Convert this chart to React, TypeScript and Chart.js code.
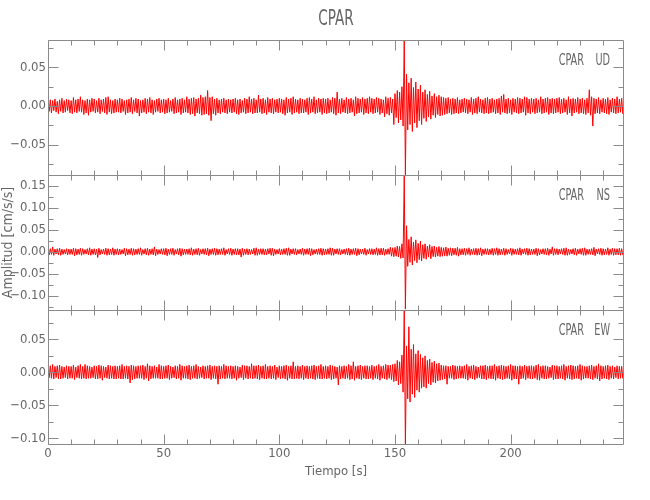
import { useEffect, useRef } from "react";
import { Chart, registerables } from "chart.js";

Chart.register(...registerables);

// ---- data ----
// Per-second upper (max) and lower (min) excursion of each trace, read off the
// picture, in thousandths of cm/s/s. Second i covers t = i .. i+1 s.
const STATION = "CPAR";
const TIME_STEP = 1; // s
const X_MIN = 0;
const X_MAX = 249;
const X_TICK_STEP = 10;
const X_LABEL_STEP = 50;
const Y_TICK_STEP = 0.025;
const Y_LABEL_STEP = 0.05;

const UD_RANGE = [-0.0893, 0.0854];
const NS_RANGE = [-0.132, 0.174];
const EW_RANGE = [-0.11, 0.0944];

const udHi = [
  6, 8, 7, 9, 6, 8, 10, 7, 9, 8,
  7, 11, 8, 9, 12, 8, 7, 9, 8, 10,
  9, 7, 10, 8, 9, 11, 12, 8, 7, 9,
  8, 10, 9, 7, 8, 9, 11, 8, 10, 9,
  7, 8, 10, 9, 11, 8, 7, 9, 10, 8,
  9, 8, 10, 7, 9, 11, 8, 9, 10, 8,
  12, 9, 10, 11, 9, 10, 14, 11, 12, 20,
  11, 12, 9, 10, 8, 9, 10, 8, 9, 8,
  9, 10, 8, 9, 7, 10, 9, 12, 9, 10,
  8, 14, 9, 10, 8, 11, 9, 10, 8, 9,
  10, 9, 8, 11, 9, 10, 12, 9, 8, 10,
  9, 8, 10, 11, 9, 12, 8, 10, 9, 10,
  9, 10, 8, 11, 10, 18, 9, 10, 8, 11,
  9, 10, 8, 12, 10, 9, 11, 9, 10, 12,
  10, 9, 11, 10, 9, 8, 12, 10, 11, 9,
  16, 20, 18, 25, 85, 41, 30, 36, 24, 31,
  22, 27, 18, 21, 15, 19, 13, 16, 12, 14,
  12, 11, 10, 11, 9, 10, 9, 11, 8, 9,
  10, 9, 8, 11, 9, 10, 12, 9, 8, 10,
  11, 9, 10, 8, 9, 10, 13, 15, 9, 10,
  8, 10, 9, 11, 10, 9, 12, 11, 9, 10,
  9, 10, 8, 12, 9, 10, 11, 9, 10, 9,
  10, 11, 9, 10, 8, 12, 9, 10, 9, 11,
  9, 10, 8, 10, 21, 12, 10, 9, 11, 8,
  10, 9, 11, 8, 10, 9, 12, 9, 10, 11,
];
const udLo = [
  -7, -9, -6, -8, -10, -7, -9, -8, -6, -9,
  -10, -8, -9, -7, -8, -11, -9, -12, -8, -7,
  -9, -8, -10, -7, -9, -11, -8, -10, -9, -8,
  -8, -9, -7, -11, -9, -8, -10, -7, -9, -13,
  -9, -8, -10, -8, -9, -11, -8, -7, -9, -8,
  -10, -9, -8, -7, -10, -9, -8, -11, -9, -8,
  -9, -11, -10, -13, -9, -10, -12, -11, -10, -12,
  -19, -10, -12, -9, -10, -8, -9, -10, -8, -9,
  -8, -10, -11, -9, -8, -10, -9, -8, -10, -9,
  -9, -8, -10, -9, -11, -8, -9, -10, -8, -9,
  -8, -10, -12, -9, -8, -11, -9, -8, -10, -9,
  -9, -8, -11, -9, -8, -10, -9, -8, -11, -9,
  -10, -9, -8, -10, -12, -9, -10, -8, -9, -10,
  -9, -8, -13, -10, -9, -8, -11, -9, -10, -8,
  -10, -9, -8, -11, -9, -14, -10, -12, -9, -24,
  -15, -22, -18, -26, -89, -31, -24, -33, -22, -28,
  -19, -24, -16, -20, -14, -17, -12, -15, -11, -13,
  -12, -11, -10, -9, -11, -10, -9, -10, -9, -8,
  -9, -10, -8, -11, -9, -10, -8, -9, -10, -9,
  -10, -9, -8, -10, -9, -11, -8, -9, -10, -9,
  -11, -8, -9, -10, -9, -8, -12, -9, -10, -8,
  -10, -9, -8, -10, -9, -8, -11, -9, -10, -9,
  -8, -10, -9, -8, -11, -9, -13, -9, -8, -10,
  -9, -10, -11, -9, -12, -26, -10, -9, -10, -8,
  -9, -10, -11, -8, -9, -10, -9, -8, -10, -9,
];

const nsHi = [
  5, 7, 11, 6, 7, 8, 6, 5, 7, 6,
  6, 8, 7, 6, 8, 7, 5, 7, 9, 6,
  7, 6, 8, 5, 6, 8, 7, 6, 9, 6,
  7, 6, 5, 8, 7, 6, 8, 7, 6, 7,
  9, 5, 7, 8, 6, 7, 11, 6, 5, 7,
  7, 8, 6, 7, 8, 5, 7, 8, 7, 6,
  6, 7, 9, 6, 7, 8, 5, 7, 7, 8,
  6, 7, 8, 7, 6, 7, 9, 5, 7, 8,
  6, 7, 7, 6, 8, 6, 7, 6, 5, 8,
  9, 6, 7, 7, 6, 7, 8, 8, 6, 5,
  7, 6, 7, 8, 9, 6, 7, 7, 5, 6,
  8, 6, 7, 8, 7, 5, 6, 7, 8, 7,
  6, 7, 9, 8, 6, 7, 7, 5, 6, 7,
  8, 6, 7, 8, 7, 6, 6, 8, 5, 7,
  7, 6, 9, 7, 8, 8, 6, 7, 10, 9,
  10, 13, 12, 18, 172, 59, 28, 34, 22, 27,
  19, 24, 16, 18, 13, 16, 12, 13, 10, 12,
  10, 9, 11, 8, 9, 8, 8, 10, 7, 7,
  8, 7, 9, 6, 7, 8, 7, 9, 6, 7,
  7, 6, 8, 7, 9, 7, 6, 8, 7, 5,
  8, 7, 6, 7, 9, 6, 7, 8, 7, 6,
  6, 8, 7, 5, 7, 7, 8, 6, 11, 7,
  7, 6, 7, 8, 9, 6, 5, 7, 8, 6,
  7, 8, 9, 6, 6, 7, 10, 6, 7, 8,
  7, 6, 9, 6, 8, 7, 7, 8, 7, 6,
];
const nsLo = [
  -7, -6, -8, -5, -7, -8, -6, -5, -7, -6,
  -6, -9, -7, -6, -8, -6, -5, -7, -8, -6,
  -7, -13, -7, -5, -6, -8, -7, -6, -8, -6,
  -7, -6, -5, -9, -7, -6, -8, -7, -6, -6,
  -8, -5, -7, -8, -6, -7, -9, -6, -5, -6,
  -7, -9, -6, -6, -8, -5, -7, -10, -7, -6,
  -6, -7, -8, -6, -7, -8, -5, -6, -7, -9,
  -6, -6, -8, -7, -6, -6, -8, -5, -6, -8,
  -6, -7, -7, -12, -8, -6, -7, -6, -5, -8,
  -8, -6, -6, -7, -7, -5, -8, -9, -6, -5,
  -7, -6, -6, -8, -8, -5, -6, -7, -5, -6,
  -8, -6, -6, -9, -7, -5, -6, -6, -8, -7,
  -6, -6, -8, -8, -5, -6, -7, -5, -6, -7,
  -8, -6, -6, -9, -7, -5, -6, -8, -5, -6,
  -7, -6, -8, -7, -7, -8, -6, -6, -10, -11,
  -10, -12, -15, -14, -130, -33, -24, -30, -20, -25,
  -18, -21, -15, -17, -12, -16, -11, -12, -10, -11,
  -10, -9, -10, -8, -9, -7, -8, -10, -7, -7,
  -8, -6, -8, -6, -7, -8, -7, -9, -6, -6,
  -7, -6, -8, -6, -8, -7, -6, -8, -6, -5,
  -8, -6, -6, -7, -8, -5, -6, -8, -7, -6,
  -6, -9, -7, -5, -6, -7, -8, -5, -8, -6,
  -7, -5, -6, -8, -8, -6, -5, -7, -8, -5,
  -6, -8, -8, -6, -6, -7, -9, -5, -6, -8,
  -7, -6, -8, -6, -8, -7, -7, -8, -7, -6,
];

const ewHi = [
  8, 10, 12, 9, 10, 11, 9, 8, 10, 9,
  9, 11, 8, 10, 12, 9, 12, 10, 9, 8,
  10, 9, 11, 10, 9, 8, 11, 10, 9, 10,
  9, 10, 12, 9, 10, 9, 11, 10, 9, 10,
  10, 11, 9, 13, 10, 9, 10, 8, 12, 10,
  9, 10, 11, 9, 8, 10, 9, 12, 10, 9,
  10, 11, 9, 10, 12, 9, 8, 10, 9, 10,
  11, 9, 10, 9, 10, 9, 12, 10, 9, 10,
  9, 10, 9, 8, 11, 10, 10, 9, 13, 10,
  10, 11, 9, 10, 12, 9, 10, 9, 11, 8,
  10, 9, 10, 11, 9, 10, 16, 9, 10, 9,
  11, 9, 10, 9, 10, 11, 9, 10, 12, 9,
  10, 9, 11, 10, 9, 8, 10, 9, 10, 9,
  12, 10, 16, 9, 10, 11, 9, 10, 10, 9,
  11, 9, 10, 12, 9, 10, 12, 11, 11, 12,
  13, 18, 16, 26, 94, 40, 69, 35, 42, 28,
  33, 27, 22, 25, 18, 20, 15, 17, 13, 14,
  11, 10, 10, 9, 9, 11, 10, 9, 10, 9,
  10, 12, 9, 10, 11, 9, 8, 10, 10, 11,
  9, 10, 10, 12, 9, 10, 11, 10, 9, 10,
  12, 10, 10, 9, 10, 9, 11, 9, 10, 10,
  9, 11, 12, 9, 10, 10, 9, 8, 11, 10,
  10, 9, 10, 12, 9, 10, 11, 10, 9, 10,
  12, 10, 9, 9, 10, 11, 9, 10, 13, 10,
  9, 10, 11, 9, 10, 8, 10, 9, 9, 8,
];
const ewLo = [
  -8, -9, -10, -8, -10, -10, -9, -8, -10, -9,
  -9, -11, -8, -9, -10, -9, -10, -9, -9, -8,
  -10, -10, -9, -12, -8, -9, -10, -9, -10, -10,
  -9, -10, -10, -9, -10, -16, -11, -10, -9, -9,
  -9, -11, -9, -13, -10, -9, -9, -9, -10, -10,
  -9, -9, -11, -9, -8, -10, -9, -12, -9, -9,
  -10, -11, -9, -9, -10, -9, -8, -10, -9, -9,
  -11, -9, -10, -18, -10, -9, -10, -9, -9, -10,
  -9, -12, -9, -8, -11, -9, -10, -9, -10, -9,
  -10, -11, -9, -10, -10, -9, -10, -9, -11, -8,
  -10, -9, -10, -12, -9, -10, -10, -9, -10, -9,
  -11, -9, -10, -9, -10, -11, -9, -10, -10, -9,
  -10, -9, -11, -10, -9, -19, -10, -9, -10, -9,
  -11, -10, -12, -9, -10, -11, -9, -10, -10, -9,
  -11, -9, -10, -12, -9, -10, -11, -9, -11, -14,
  -13, -19, -17, -30, -110, -40, -45, -33, -38, -27,
  -30, -24, -22, -24, -17, -19, -15, -16, -13, -12,
  -11, -10, -18, -9, -9, -11, -10, -9, -9, -9,
  -10, -12, -9, -10, -11, -9, -8, -10, -10, -11,
  -9, -10, -10, -12, -9, -10, -11, -10, -9, -10,
  -12, -10, -10, -18, -10, -9, -11, -9, -10, -10,
  -9, -11, -12, -9, -10, -10, -9, -8, -11, -10,
  -10, -9, -10, -12, -9, -10, -11, -10, -9, -10,
  -12, -10, -9, -9, -10, -11, -9, -10, -13, -10,
  -9, -10, -11, -9, -10, -8, -10, -9, -9, -8,
];

const PANELS = [
  { id: "yUD", comp: "UD", hi: udHi, lo: udLo, range: UD_RANGE },
  { id: "yNS", comp: "NS", hi: nsHi, lo: nsLo, range: NS_RANGE },
  { id: "yEW", comp: "EW", hi: ewHi, lo: ewLo, range: EW_RANGE },
];

const TITLE = STATION;
const X_TITLE = "Tiempo [s]";
const Y_TITLE = "Amplitud [cm/s/s]";

// ---- styles ----
const FAMILY = '"Liberation Sans Narrow", "DejaVu Sans Condensed", "Liberation Sans", sans-serif';
const TEXT_COLOR = "#666666";
const AXIS_COLOR = "#8a8a8a";
const LINE_COLOR = "#ff0000";

const isMult = (v: number, step: number) => Math.abs(v / step - Math.round(v / step)) < 1e-6;
const fmtY = (v: number) => {
  if (Math.abs(v) < 1e-9) return "0.00";
  return (v < 0 ? "\u2212" : "") + Math.abs(v).toFixed(2);
};

function drawNarrow(ctx: CanvasRenderingContext2D, text: string, x: number, y: number, size: number, align: CanvasTextAlign, sx: number) {
  ctx.save();
  ctx.translate(x, y);
  ctx.scale(sx, 1);
  ctx.font = `${size}px ${FAMILY}`;
  ctx.fillStyle = TEXT_COLOR;
  ctx.textAlign = align;
  ctx.textBaseline = "middle";
  ctx.fillText(text, 0, 0);
  ctx.restore();
}

const framePlugin = {
  id: "idlFrames",
  afterDraw(chart: any) {
    const { ctx, chartArea } = chart;
    const xs = chart.scales.x;
    const left = Math.round(chartArea.left) + 0.5;
    const right = Math.round(chartArea.right) - 0.5;
    ctx.save();
    ctx.strokeStyle = AXIS_COLOR;
    ctx.lineWidth = 1;
    PANELS.forEach((p, k) => {
      const ys = chart.scales[p.id];
      const top = Math.round(ys.top) + 0.5;
      const bottom = k === PANELS.length - 1 ? Math.round(ys.bottom) - 0.5 : Math.round(ys.bottom) + 0.5;
      ctx.beginPath();
      ctx.rect(left, top, right - left, bottom - top);
      for (const t of ys.ticks) {
        if (!isMult(t.value, Y_TICK_STEP)) continue;
        const y = Math.round(ys.getPixelForValue(t.value)) + 0.5;
        const len = isMult(t.value, Y_LABEL_STEP) ? 10 : 5;
        ctx.moveTo(left, y);
        ctx.lineTo(left + len, y);
        ctx.moveTo(right, y);
        ctx.lineTo(right - len, y);
      }
      for (const t of xs.ticks) {
        if (!isMult(t.value, X_TICK_STEP)) continue;
        const x = Math.round(xs.getPixelForValue(t.value)) + 0.5;
        const len = isMult(t.value, X_LABEL_STEP) ? 10 : 5;
        ctx.moveTo(x, top);
        ctx.lineTo(x, top + len);
        ctx.moveTo(x, bottom);
        ctx.lineTo(x, bottom - len);
      }
      ctx.stroke();
      drawNarrow(ctx, STATION, 584, ys.top + 21, 15, "right", 0.72);
      drawNarrow(ctx, p.comp, 610, ys.top + 21, 15, "right", 0.72);
    });
    drawNarrow(ctx, TITLE, (chartArea.left + chartArea.right) / 2, 20, 21, "center", 0.72);
    ctx.restore();
  },
};

function yScale(p: any, withTitle: boolean) {
  return {
    type: "linear",
    position: "left",
    stack: "panels",
    stackWeight: 1,
    min: p.range[0],
    max: p.range[1],
    grid: { display: false, drawTicks: false },
    border: { display: false },
    ticks: {
      stepSize: Y_TICK_STEP,
      includeBounds: false,
      autoSkip: false,
      maxTicksLimit: 100,
      padding: 2,
      color: TEXT_COLOR,
      font: { family: FAMILY, size: 13 },
      callback: (v: number) => (isMult(v, Y_LABEL_STEP) ? fmtY(v) : ""),
    },
    title: {
      display: withTitle,
      text: Y_TITLE,
      color: TEXT_COLOR,
      font: { family: FAMILY, size: 14 },
      padding: 0,
    },
    afterFit: (s: any) => {
      s.width = 48;
    },
  };
}

export default function App() {
  const ref = useRef<HTMLCanvasElement | null>(null);
  useEffect(() => {
    if (!ref.current) return;
    const datasets = PANELS.map((p) => ({
      label: p.comp,
      yAxisID: p.id,
      xAxisID: "x",
      data: p.hi.flatMap((h, i) => [
        { x: X_MIN + i * TIME_STEP, y: h / 1000 },
        { x: X_MIN + i * TIME_STEP + TIME_STEP / 2, y: p.lo[i] / 1000 },
      ]),
      borderColor: LINE_COLOR,
      borderWidth: 1,
      pointRadius: 0,
      tension: 0,
      fill: false,
    }));
    const chart = new Chart(ref.current, {
      type: "line",
      data: { datasets },
      options: {
        animation: false,
        responsive: false,
        events: [],
        layout: { padding: { left: 0, right: 26, top: 40, bottom: 0 } },
        plugins: { legend: { display: false }, tooltip: { enabled: false }, title: { display: false } },
        scales: {
          x: {
            type: "linear",
            position: "bottom",
            min: X_MIN,
            max: X_MAX,
            grid: { display: false, drawTicks: false },
            border: { display: false },
            ticks: {
              stepSize: X_TICK_STEP,
              includeBounds: false,
              autoSkip: false,
              maxRotation: 0,
              maxTicksLimit: 100,
              padding: 1,
              color: TEXT_COLOR,
              font: { family: FAMILY, size: 13 },
              callback: (v: number) => (isMult(v, X_LABEL_STEP) ? String(Math.round(v)) : ""),
            },
            title: {
              display: true,
              text: X_TITLE,
              color: TEXT_COLOR,
              font: { family: FAMILY, size: 13 },
              padding: { top: 0, bottom: 21 },
            },
            afterFit: (s: any) => {
              s.height = 55;
            },
          },
          yEW: yScale(PANELS[2], false),
          yNS: yScale(PANELS[1], true),
          yUD: yScale(PANELS[0], false),
        } as any,
      },
      plugins: [framePlugin],
    } as any);
    return () => chart.destroy();
  }, []);
  return (
    <div style={{ position: "fixed", left: 0, top: 0, width: 650, height: 500, background: "#fff" }}>
      <canvas ref={ref} width={650} height={500} style={{ display: "block" }} />
    </div>
  );
}
